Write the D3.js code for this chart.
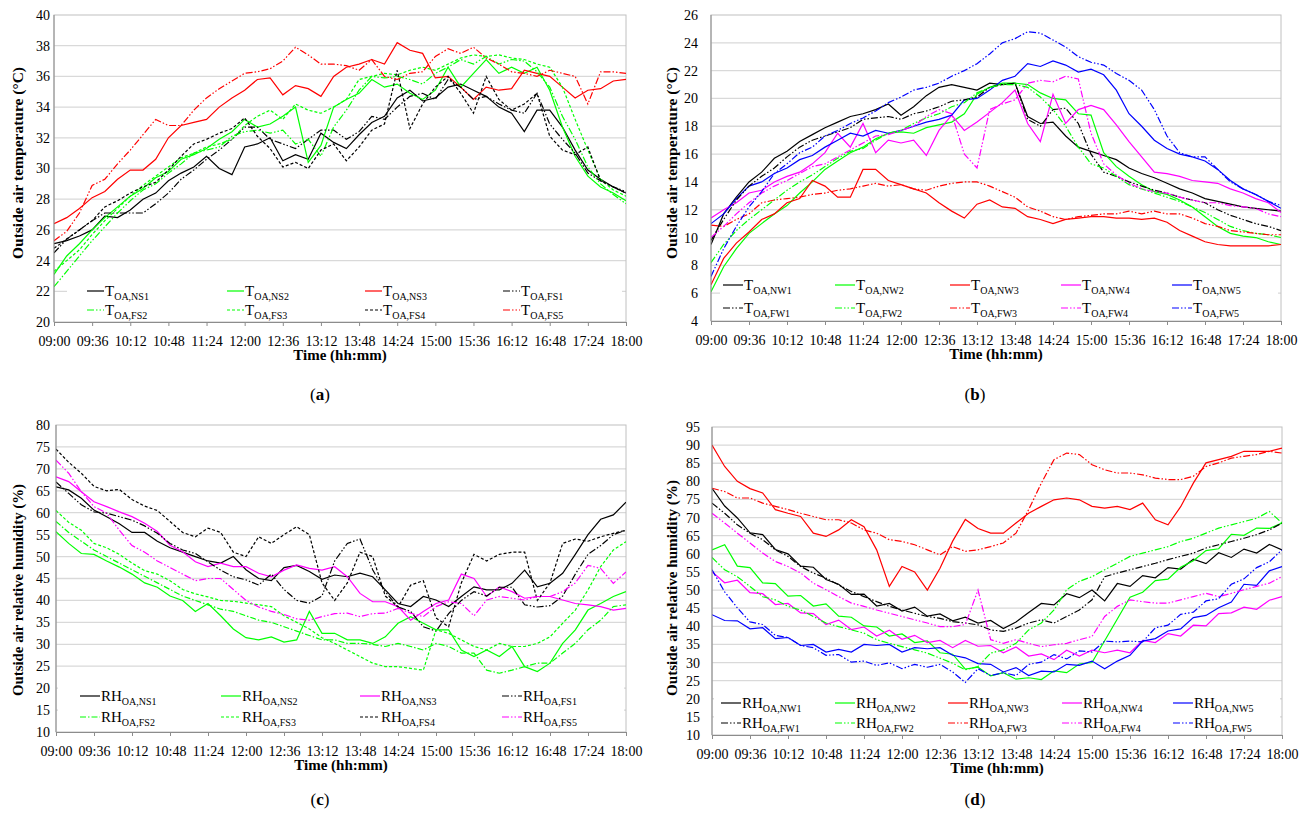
<!DOCTYPE html>
<html>
<head>
<meta charset="utf-8">
<script src="https://cdn.jsdelivr.net/npm/d3@7"></script>
<style>
  body { margin: 0; background: #fff; }
  text { font-family: "Liberation Serif", "Times New Roman", serif; fill: #000; }
</style>
</head>
<body>
<script>
// Time axis: samples every 12 min from 09:00 to 18:00
var minutes = d3.range(0, 541, 12);
var tickMinutes = [0, 36, 72, 108, 144, 180, 216, 252, 288, 324, 360, 396, 432, 468, 504, 540];
var timeLabels = ["09:00", "09:36", "10:12", "10:48", "11:24", "12:00", "12:36", "13:12",
  "13:48", "14:24", "15:00", "15:36", "16:12", "16:48", "17:24", "18:00"];

// y tick labels
var aTicks = [20, 22, 24, 26, 28, 30, 32, 34, 36, 38, 40];
var bTicks = [4, 6, 8, 10, 12, 14, 16, 18, 20, 22, 24, 26];
var cTicks = [10, 15, 20, 25, 30, 35, 40, 45, 50, 55, 60, 65, 70, 75, 80];
var dTicks = [10, 15, 20, 25, 30, 35, 40, 45, 50, 55, 60, 65, 70, 75, 80, 85, 90, 95];

// (a) outside air temperature, south
var aNS1 = [25.1, 25.3, 25.6, 26.0, 26.9, 26.8, 27.3, 28.0, 28.4, 29.2, 29.7, 30.1, 30.8, 30.0, 29.6, 31.4, 31.6, 32.0, 30.5, 30.9, 30.6, 32.3, 31.7, 31.3, 32.2, 33.0, 33.4, 34.6, 35.1, 34.4, 34.6, 35.3, 35.5, 35.1, 34.7, 34.0, 33.6, 32.4, 33.8, 33.8, 32.7, 31.2, 29.9, 29.3, 28.8, 28.4];
var aNS2 = [23.1, 24.3, 25.1, 26.0, 26.8, 27.5, 28.2, 28.7, 29.4, 29.8, 30.6, 30.9, 31.3, 31.9, 32.4, 33.2, 32.7, 32.9, 33.4, 34.0, 30.4, 31.5, 34.0, 34.5, 34.9, 35.8, 35.3, 35.5, 34.9, 34.5, 35.1, 36.6, 35.3, 36.2, 37.1, 36.2, 36.6, 36.2, 36.6, 35.1, 32.7, 30.8, 29.5, 28.8, 28.4, 27.9];
var aNS3 = [26.4, 26.8, 27.4, 28.1, 28.5, 29.3, 29.9, 29.9, 30.6, 32.0, 32.8, 33.0, 33.2, 34.0, 34.6, 35.1, 35.8, 35.9, 34.8, 35.4, 35.2, 34.7, 36.0, 36.6, 36.8, 37.1, 36.8, 38.2, 37.7, 37.5, 35.9, 36.0, 35.3, 34.5, 35.3, 35.1, 35.2, 36.4, 36.2, 36.0, 35.3, 34.6, 35.1, 35.2, 35.7, 35.8];
var aFS1 = [24.5, 25.4, 26.0, 26.6, 27.1, 27.1, 27.1, 27.1, 27.7, 28.4, 29.3, 29.9, 30.6, 31.2, 31.9, 32.7, 32.7, 31.9, 31.6, 31.3, 31.9, 32.5, 32.5, 31.9, 32.4, 33.4, 33.2, 34.0, 34.7, 34.9, 34.5, 35.8, 35.3, 34.5, 34.7, 34.2, 33.8, 33.6, 34.9, 32.9, 31.9, 31.0, 29.7, 29.2, 28.8, 28.5];
var aFS2 = [22.3, 23.3, 24.3, 25.3, 26.2, 27.1, 27.9, 28.6, 29.0, 29.7, 30.3, 31.0, 31.2, 31.4, 32.1, 32.4, 32.5, 32.3, 32.5, 31.6, 31.9, 30.8, 32.7, 33.8, 35.1, 36.0, 35.9, 36.0, 35.8, 35.5, 36.2, 36.6, 37.1, 36.8, 37.3, 36.8, 37.1, 37.0, 36.3, 35.3, 33.4, 31.9, 30.1, 29.0, 28.3, 27.7];
var aFS3 = [23.3, 24.0, 24.7, 25.7, 26.6, 27.4, 28.2, 28.9, 29.5, 30.1, 30.7, 31.0, 31.4, 31.6, 31.9, 32.8, 33.4, 33.8, 33.2, 34.2, 33.8, 33.6, 34.0, 34.5, 35.8, 36.0, 36.2, 36.1, 36.4, 36.6, 36.4, 36.8, 37.2, 37.4, 37.3, 37.4, 37.2, 37.1, 36.8, 36.6, 35.3, 33.2, 31.2, 29.3, 28.6, 28.2];
var aFS4 = [24.8, 25.4, 26.0, 26.6, 27.5, 27.9, 28.4, 28.8, 29.1, 29.9, 30.8, 31.6, 31.9, 32.3, 32.6, 33.3, 32.1, 31.3, 30.1, 30.4, 30.0, 31.2, 31.6, 30.5, 31.4, 32.5, 32.9, 36.4, 32.6, 34.2, 35.3, 36.0, 34.9, 33.6, 36.0, 34.5, 33.8, 34.2, 34.9, 32.1, 31.2, 30.9, 31.4, 29.2, 28.8, 28.4];
var aFS5 = [25.3, 25.9, 27.1, 28.9, 29.3, 30.3, 31.2, 32.2, 33.2, 32.8, 32.8, 33.8, 34.6, 35.2, 35.7, 36.2, 36.3, 36.5, 37.0, 37.9, 37.4, 36.8, 36.8, 36.7, 36.4, 37.1, 36.0, 35.8, 36.2, 36.3, 37.3, 37.8, 37.5, 37.9, 37.2, 36.8, 36.3, 36.2, 36.0, 36.4, 36.2, 36.0, 34.2, 36.3, 36.3, 36.2];

// (b) outside air temperature, west
var bNW1 = [9.5, 11.7, 12.9, 14.0, 14.7, 15.7, 16.2, 16.9, 17.4, 17.9, 18.3, 18.7, 18.9, 19.2, 19.6, 18.8, 19.4, 20.2, 20.8, 21.0, 20.8, 20.6, 21.1, 21.0, 21.1, 18.7, 18.2, 18.3, 17.3, 16.5, 16.2, 15.9, 15.6, 15.0, 14.6, 14.3, 13.9, 13.5, 13.2, 12.8, 12.6, 12.4, 12.2, 12.1, 12.0, 11.9];
var bNW2 = [6.1, 7.9, 9.2, 10.3, 11.0, 11.7, 12.3, 13.2, 14.0, 14.9, 15.5, 16.1, 16.5, 17.1, 17.5, 17.6, 17.5, 17.9, 18.1, 18.3, 18.9, 20.3, 20.8, 21.1, 21.1, 21.0, 20.4, 20.0, 19.9, 18.9, 18.8, 16.1, 15.1, 14.4, 13.8, 13.3, 13.1, 12.7, 12.2, 11.5, 10.8, 10.3, 10.1, 10.0, 9.7, 9.5];
var bNW3 = [6.6, 8.5, 9.6, 10.4, 11.3, 11.7, 12.5, 12.8, 14.1, 13.7, 12.9, 12.9, 14.9, 14.9, 14.1, 13.8, 13.5, 13.2, 12.5, 11.9, 11.4, 12.4, 12.7, 12.2, 12.1, 11.5, 11.3, 11.0, 11.3, 11.4, 11.5, 11.5, 11.4, 11.4, 11.3, 11.4, 11.1, 10.5, 10.1, 9.7, 9.5, 9.4, 9.4, 9.4, 9.4, 9.5];
var bNW4 = [11.4, 12.0, 12.5, 13.2, 13.4, 14.0, 14.4, 14.7, 15.3, 16.1, 17.5, 16.5, 18.2, 16.1, 17.0, 16.8, 17.0, 15.9, 17.7, 18.8, 17.7, 18.3, 19.0, 19.7, 20.6, 18.2, 16.9, 20.3, 18.2, 19.2, 19.5, 19.2, 18.1, 16.9, 15.8, 14.7, 14.6, 14.4, 14.1, 14.0, 13.9, 13.5, 13.2, 12.8, 12.5, 11.8];
var bNW5 = [11.0, 11.7, 12.8, 13.7, 14.0, 14.6, 15.0, 15.6, 15.9, 16.5, 17.0, 17.5, 17.3, 17.7, 17.5, 17.7, 18.0, 18.3, 18.5, 18.8, 19.9, 20.0, 20.6, 21.3, 21.6, 22.5, 22.3, 22.7, 22.4, 21.9, 22.1, 21.7, 20.6, 18.9, 18.0, 17.0, 16.4, 16.0, 15.8, 15.5, 14.9, 14.1, 13.5, 13.1, 12.6, 12.1];
var bFW1 = [9.8, 11.3, 12.7, 13.7, 14.4, 15.0, 15.8, 16.5, 17.0, 17.3, 17.6, 17.9, 18.5, 18.6, 18.7, 18.5, 18.9, 19.1, 19.4, 19.8, 19.9, 20.1, 20.8, 21.0, 21.1, 18.5, 18.0, 19.2, 19.3, 18.2, 16.0, 14.7, 14.4, 14.0, 13.7, 13.4, 13.2, 12.9, 12.7, 12.5, 12.0, 11.6, 11.3, 11.0, 10.8, 10.5];
var bFW2 = [8.2, 9.5, 10.5, 11.3, 12.0, 12.7, 13.4, 14.0, 14.5, 15.1, 15.7, 16.2, 16.4, 17.0, 17.5, 17.7, 18.2, 18.6, 18.9, 19.4, 19.7, 20.4, 20.8, 21.0, 21.0, 20.8, 20.1, 19.2, 18.0, 16.5, 15.3, 15.0, 14.4, 13.8, 13.5, 13.2, 12.9, 12.6, 12.2, 11.8, 11.3, 10.8, 10.5, 10.3, 10.2, 10.0];
var bFW3 = [10.9, 10.8, 11.3, 11.7, 12.5, 12.7, 12.8, 12.9, 13.1, 13.2, 13.4, 13.5, 13.7, 13.9, 13.7, 13.8, 13.5, 13.4, 13.7, 13.9, 14.0, 14.0, 13.7, 13.3, 12.9, 12.2, 11.9, 11.5, 11.3, 11.5, 11.6, 11.7, 11.7, 11.9, 11.7, 11.9, 11.7, 11.7, 11.4, 11.0, 10.8, 10.5, 10.4, 10.3, 10.2, 10.2];
var bFW4 = [10.0, 10.8, 11.7, 12.5, 13.2, 13.7, 14.1, 14.6, 15.1, 15.3, 15.8, 16.3, 16.8, 17.3, 17.4, 17.7, 18.0, 18.7, 19.2, 18.9, 16.0, 15.0, 19.2, 19.6, 19.9, 21.1, 21.3, 21.2, 21.6, 21.4, 17.5, 15.3, 14.5, 13.9, 13.5, 13.3, 13.2, 12.9, 12.7, 12.5, 12.5, 12.3, 12.2, 12.1, 11.7, 11.5];
var bFW5 = [7.2, 9.2, 10.8, 12.2, 13.3, 14.6, 15.3, 16.1, 16.5, 17.3, 17.7, 18.2, 18.6, 19.1, 19.7, 20.1, 20.6, 20.8, 21.1, 21.6, 22.0, 22.5, 23.2, 24.0, 24.3, 24.8, 24.7, 24.2, 23.7, 23.0, 22.6, 22.4, 21.8, 21.3, 20.6, 19.2, 17.3, 16.1, 15.8, 15.8, 14.9, 14.0, 13.5, 13.1, 12.6, 12.3];

// (c) outside air relative humidity, south
var cNS1 = [65.9, 65.2, 63.3, 60.6, 59.1, 57.5, 55.5, 55.5, 53.5, 52.0, 51.0, 50.0, 49.0, 48.5, 50.0, 47.0, 45.0, 44.5, 47.5, 48.0, 46.6, 44.8, 45.8, 45.4, 46.2, 45.4, 42.4, 39.3, 38.6, 40.9, 40.1, 38.6, 40.9, 43.1, 42.4, 42.4, 43.9, 46.9, 43.1, 43.9, 46.2, 50.5, 55.0, 58.5, 59.5, 62.4];
var cNS2 = [55.7, 53.0, 50.7, 50.5, 49.0, 47.6, 46.0, 44.0, 43.0, 41.0, 40.0, 37.5, 39.3, 36.5, 33.5, 31.5, 31.0, 31.7, 30.5, 31.0, 37.5, 32.5, 32.5, 31.0, 31.0, 30.2, 31.7, 34.8, 36.3, 34.8, 33.3, 33.3, 28.7, 27.2, 28.7, 27.2, 29.5, 24.9, 23.8, 25.7, 30.2, 33.3, 37.8, 39.3, 40.9, 42.0];
var cNS3 = [68.2, 67.1, 64.8, 62.5, 61.4, 60.2, 59.1, 57.6, 55.7, 52.6, 51.1, 48.8, 47.7, 48.5, 47.7, 47.7, 46.2, 45.4, 46.9, 48.1, 47.3, 46.9, 47.7, 45.4, 41.6, 39.7, 39.7, 38.6, 35.5, 37.5, 39.3, 40.1, 46.0, 45.0, 40.9, 43.1, 42.0, 40.5, 40.9, 40.9, 40.1, 39.3, 39.0, 38.6, 37.8, 38.2];
var cFS1 = [67.0, 64.4, 61.8, 60.2, 59.9, 59.1, 58.3, 57.0, 55.3, 53.0, 51.5, 50.7, 48.8, 46.9, 45.4, 44.7, 43.5, 46.0, 42.5, 40.0, 39.4, 41.0, 49.0, 53.0, 54.0, 47.0, 42.0, 38.5, 37.5, 34.0, 33.0, 37.0, 40.0, 42.0, 41.0, 43.0, 43.0, 39.0, 38.5, 38.8, 41.0, 46.0, 50.5, 52.5, 55.0, 56.0];
var cFS2 = [58.0, 55.5, 53.5, 51.5, 50.0, 48.5, 47.0, 45.5, 44.0, 42.5, 41.0, 40.0, 39.0, 38.0, 37.5, 36.5, 35.5, 35.0, 34.0, 33.0, 32.0, 31.0, 31.0, 30.2, 30.2, 30.0, 29.5, 30.2, 29.5, 28.7, 30.2, 29.5, 28.0, 28.0, 24.1, 23.4, 24.1, 24.9, 25.7, 25.7, 28.0, 30.2, 33.3, 35.5, 38.6, 39.0];
var cFS3 = [60.5, 57.8, 56.0, 53.0, 52.0, 50.5, 48.5, 46.8, 46.0, 44.5, 42.5, 41.5, 40.8, 40.0, 39.8, 39.4, 39.0, 38.6, 36.5, 35.0, 33.5, 31.5, 30.2, 28.7, 27.2, 25.7, 24.9, 24.9, 24.5, 24.1, 33.3, 32.5, 31.0, 29.5, 28.7, 30.2, 29.5, 29.5, 30.2, 31.7, 34.8, 37.8, 42.4, 47.7, 51.5, 53.4];
var cFS4 = [74.5, 71.5, 69.0, 66.0, 65.0, 65.3, 63.0, 61.5, 60.5, 58.0, 55.5, 54.5, 56.5, 55.5, 51.0, 50.0, 54.5, 53.0, 55.0, 56.8, 55.0, 44.0, 40.0, 44.0, 51.0, 50.0, 41.0, 38.5, 43.5, 44.5, 36.0, 34.0, 44.0, 50.5, 49.0, 50.5, 51.0, 51.0, 40.0, 44.0, 53.0, 54.0, 53.5, 54.5, 55.3, 56.0];
var cFS5 = [72.0, 69.0, 64.8, 61.4, 59.9, 56.0, 52.5, 51.0, 49.0, 47.5, 46.0, 44.5, 45.0, 45.0, 42.5, 40.0, 38.5, 37.5, 36.8, 35.8, 35.5, 36.3, 37.0, 37.1, 36.3, 37.0, 37.1, 38.2, 37.1, 36.3, 38.6, 39.7, 39.3, 36.5, 40.1, 40.9, 40.5, 40.1, 40.9, 40.9, 42.0, 44.0, 48.0, 47.3, 43.9, 46.5];

// (d) outside air relative humidity, west
var dNW1 = [78.1, 73.2, 69.9, 65.8, 65.3, 61.2, 60.0, 56.6, 56.3, 52.9, 51.6, 48.8, 48.9, 45.6, 46.3, 44.2, 45.3, 42.8, 43.4, 41.5, 42.5, 40.9, 41.6, 39.4, 41.2, 43.8, 46.3, 45.9, 49.0, 47.9, 50.0, 47.0, 51.8, 51.0, 54.0, 53.4, 56.2, 55.8, 58.5, 57.3, 60.3, 59.0, 61.3, 60.2, 62.6, 61.1];
var dNW2 = [61.1, 62.5, 56.6, 56.2, 52.0, 51.8, 48.3, 48.5, 45.6, 46.2, 42.8, 42.5, 40.1, 39.8, 37.3, 37.9, 35.5, 36.0, 32.7, 32.3, 28.2, 28.7, 26.3, 27.2, 25.4, 25.8, 25.3, 27.7, 27.2, 29.6, 30.0, 36.0, 42.0, 48.0, 49.4, 52.6, 53.0, 56.3, 58.1, 60.9, 61.4, 65.4, 65.1, 67.1, 67.0, 68.5];
var dNW3 = [90.0, 84.1, 80.0, 78.0, 76.8, 72.2, 71.2, 70.3, 65.7, 64.8, 66.6, 69.4, 67.5, 61.1, 51.0, 56.5, 55.0, 50.0, 56.0, 63.5, 69.5, 67.0, 65.7, 65.7, 68.5, 71.2, 73.1, 74.9, 75.4, 74.9, 73.1, 72.6, 73.1, 72.2, 74.0, 69.4, 68.0, 73.0, 79.5, 85.1, 86.0, 86.9, 88.3, 88.3, 88.3, 89.2];
var dNW4 = [55.1, 52.0, 52.7, 49.3, 49.0, 46.0, 46.3, 43.7, 43.5, 40.5, 41.7, 39.1, 39.8, 37.3, 38.9, 36.4, 37.5, 35.5, 36.1, 34.1, 36.1, 34.5, 34.7, 32.7, 34.3, 31.8, 32.4, 30.8, 33.4, 31.8, 33.4, 32.7, 33.4, 32.7, 36.1, 35.5, 38.0, 37.3, 40.3, 40.1, 43.5, 43.7, 45.3, 44.7, 47.2, 48.2];
var dNW5 = [43.2, 41.6, 41.5, 39.3, 39.6, 36.6, 36.9, 34.7, 35.0, 32.9, 33.6, 32.9, 35.0, 34.7, 35.0, 32.9, 34.1, 33.8, 34.1, 32.0, 31.3, 29.7, 29.5, 27.4, 28.6, 26.4, 27.6, 27.4, 29.5, 29.2, 30.4, 28.3, 30.4, 32.0, 35.9, 36.6, 38.7, 39.3, 42.4, 43.0, 45.1, 46.7, 51.6, 51.3, 55.3, 56.5];
var dFW1 = [74.0, 71.2, 68.0, 65.7, 63.9, 61.1, 59.3, 56.5, 54.7, 53.3, 51.4, 49.6, 48.2, 46.8, 45.5, 44.5, 43.6, 42.7, 42.2, 41.3, 40.9, 40.4, 39.0, 38.6, 39.5, 40.9, 41.8, 40.9, 42.7, 44.5, 47.3, 53.7, 54.7, 55.6, 56.5, 57.4, 58.4, 59.3, 60.2, 61.6, 62.5, 63.4, 64.3, 65.3, 66.6, 68.5];
var dFW2 = [59.0, 55.6, 53.7, 51.0, 48.2, 47.3, 45.5, 44.5, 42.7, 40.9, 39.9, 39.0, 38.1, 36.3, 35.3, 34.4, 33.5, 32.6, 31.2, 29.8, 28.0, 28.9, 32.6, 33.5, 35.3, 39.0, 40.9, 44.5, 50.1, 52.4, 53.7, 55.6, 57.4, 59.3, 60.2, 61.1, 62.0, 63.4, 64.3, 65.7, 67.1, 68.0, 68.9, 69.8, 71.7, 68.5];
var dFW3 = [78.1, 77.2, 75.4, 75.4, 74.0, 73.1, 72.2, 71.2, 70.3, 69.4, 69.4, 68.5, 66.6, 65.7, 63.9, 63.4, 62.5, 61.1, 59.7, 62.0, 60.7, 61.1, 62.0, 63.0, 65.7, 72.2, 79.5, 86.0, 87.8, 87.4, 84.6, 83.2, 82.3, 82.3, 81.8, 80.9, 80.5, 80.5, 81.4, 84.1, 85.1, 86.4, 86.9, 87.4, 88.3, 87.8];
var dFW4 = [71.2, 68.5, 65.7, 63.0, 60.2, 57.9, 56.5, 54.7, 51.9, 50.1, 48.2, 46.4, 45.5, 44.5, 43.6, 42.7, 41.8, 40.9, 39.9, 39.9, 40.5, 50.0, 36.3, 35.3, 36.3, 35.3, 34.4, 34.9, 35.3, 36.3, 37.2, 42.7, 45.5, 47.3, 46.8, 46.4, 46.4, 47.3, 48.2, 49.1, 48.2, 49.1, 50.1, 51.0, 51.9, 53.7];
var dFW5 = [55.6, 49.5, 45.1, 41.2, 40.5, 37.5, 36.9, 34.7, 34.1, 32.0, 32.2, 30.1, 30.4, 29.2, 29.9, 28.3, 29.5, 28.7, 29.5, 27.4, 24.5, 28.3, 26.4, 27.2, 26.4, 29.5, 30.1, 32.2, 31.0, 33.2, 32.9, 35.9, 35.7, 35.9, 35.7, 39.6, 40.3, 43.3, 43.9, 47.0, 47.6, 51.6, 53.1, 56.2, 57.8, 61.1];

var BLACK = "#000000", GREEN = "#00ff00", RED = "#ff0000", MAGENTA = "#ff00ff", BLUE = "#0000ff";
var SOLID = null, DASHED = "3,2", DASHDOT = "6,2,1.5,2", DASHDOTDOT = "7,2,1.5,2,1.5,2";

var panels = [
  { caption: "a", left: 54, right: 626, top: 15, bottom: 322, yTicks: aTicks, labelRight: 50,
    yTitle: "Outside air temperature (°C)", titleX: 18, titleY: 163, titleLen: 192, base: "T", sample: 17,
    legendCols: [87, 227, 365, 503], legendRows: [291, 310], legendBox: [67, 280, 622, 321], capPos: [320, 400],
    series: [
      { name: "OA,NS1", values: aNS1, color: BLACK, dash: SOLID },
      { name: "OA,NS2", values: aNS2, color: GREEN, dash: SOLID },
      { name: "OA,NS3", values: aNS3, color: RED, dash: SOLID },
      { name: "OA,FS1", values: aFS1, color: BLACK, dash: DASHDOTDOT },
      { name: "OA,FS2", values: aFS2, color: GREEN, dash: DASHDOTDOT },
      { name: "OA,FS3", values: aFS3, color: GREEN, dash: DASHED },
      { name: "OA,FS4", values: aFS4, color: BLACK, dash: DASHED },
      { name: "OA,FS5", values: aFS5, color: RED, dash: DASHDOTDOT }
    ] },
  { caption: "b", left: 711, right: 1281, top: 15, bottom: 321, yTicks: bTicks, labelRight: 698,
    yTitle: "Outside air temperature (°C)", titleX: 672, titleY: 163, titleLen: 192, base: "T", sample: 20,
    legendCols: [723, 835, 950, 1061, 1172], legendRows: [285, 308], legendBox: [720, 275, 1278, 320], capPos: [975, 400],
    series: [
      { name: "OA,NW1", values: bNW1, color: BLACK, dash: SOLID },
      { name: "OA,NW2", values: bNW2, color: GREEN, dash: SOLID },
      { name: "OA,NW3", values: bNW3, color: RED, dash: SOLID },
      { name: "OA,NW4", values: bNW4, color: MAGENTA, dash: SOLID },
      { name: "OA,NW5", values: bNW5, color: BLUE, dash: SOLID },
      { name: "OA,FW1", values: bFW1, color: BLACK, dash: DASHDOTDOT },
      { name: "OA,FW2", values: bFW2, color: GREEN, dash: DASHDOTDOT },
      { name: "OA,FW3", values: bFW3, color: RED, dash: DASHDOTDOT },
      { name: "OA,FW4", values: bFW4, color: MAGENTA, dash: DASHDOTDOT },
      { name: "OA,FW5", values: bFW5, color: BLUE, dash: DASHDOTDOT }
    ] },
  { caption: "c", left: 56, right: 626, top: 425, bottom: 732, yTicks: cTicks, labelRight: 50,
    yTitle: "Outside air relative humidity (%)", titleX: 18, titleY: 590, titleLen: 212, base: "RH", sample: 20,
    legendCols: [80, 221, 360, 502], legendRows: [696, 717], legendBox: [58, 684, 624, 731], capPos: [320, 805],
    series: [
      { name: "OA,NS1", values: cNS1, color: BLACK, dash: SOLID },
      { name: "OA,NS2", values: cNS2, color: GREEN, dash: SOLID },
      { name: "OA,NS3", values: cNS3, color: MAGENTA, dash: SOLID },
      { name: "OA,FS1", values: cFS1, color: BLACK, dash: DASHDOTDOT },
      { name: "OA,FS2", values: cFS2, color: GREEN, dash: DASHDOT },
      { name: "OA,FS3", values: cFS3, color: GREEN, dash: DASHED },
      { name: "OA,FS4", values: cFS4, color: BLACK, dash: DASHED },
      { name: "OA,FS5", values: cFS5, color: MAGENTA, dash: DASHDOTDOT }
    ] },
  { caption: "d", left: 712, right: 1282, top: 427, bottom: 735, yTicks: dTicks, labelRight: 700,
    yTitle: "Outside air relative humidity (%)", titleX: 672, titleY: 588, titleLen: 216, base: "RH", sample: 20,
    legendCols: [721, 835, 948, 1062, 1173], legendRows: [703, 723], legendBox: [714, 690, 1280, 734], capPos: [975, 805],
    series: [
      { name: "OA,NW1", values: dNW1, color: BLACK, dash: SOLID },
      { name: "OA,NW2", values: dNW2, color: GREEN, dash: SOLID },
      { name: "OA,NW3", values: dNW3, color: RED, dash: SOLID },
      { name: "OA,NW4", values: dNW4, color: MAGENTA, dash: SOLID },
      { name: "OA,NW5", values: dNW5, color: BLUE, dash: SOLID },
      { name: "OA,FW1", values: dFW1, color: BLACK, dash: DASHDOTDOT },
      { name: "OA,FW2", values: dFW2, color: GREEN, dash: DASHDOTDOT },
      { name: "OA,FW3", values: dFW3, color: RED, dash: DASHDOTDOT },
      { name: "OA,FW4", values: dFW4, color: MAGENTA, dash: DASHDOTDOT },
      { name: "OA,FW5", values: dFW5, color: BLUE, dash: DASHDOTDOT }
    ] }
];

var svg = d3.select("body").append("svg")
  .attr("width", 1307)
  .attr("height", 818);

panels.forEach(function(p, k) {
  var x = d3.scaleLinear().domain([0, 540]).range([p.left, p.right]);
  var y = d3.scaleLinear()
    .domain([p.yTicks[0], p.yTicks[p.yTicks.length - 1]])
    .range([p.bottom, p.top]);

  var g = svg.append("g");

  // horizontal gridlines
  g.selectAll(".grid").data(p.yTicks.slice(1, -1)).enter().append("line")
    .attr("x1", p.left).attr("x2", p.right)
    .attr("y1", d => y(d)).attr("y2", d => y(d))
    .attr("stroke", "#d9d9d9").attr("stroke-width", 1.3);

  // plot frame
  g.append("rect")
    .attr("x", p.left).attr("y", p.top)
    .attr("width", p.right - p.left).attr("height", p.bottom - p.top)
    .attr("fill", "none").attr("stroke", "#c0c0c0");

  svg.append("clipPath").attr("id", "clip" + k)
    .append("rect")
    .attr("x", p.left).attr("y", p.top)
    .attr("width", p.right - p.left).attr("height", p.bottom - p.top);

  var line = d3.line()
    .x((d, i) => x(minutes[i]))
    .y(d => y(d));

  p.series.forEach(function(s) {
    g.append("path")
      .attr("d", line(s.values))
      .attr("clip-path", "url(#clip" + k + ")")
      .attr("fill", "none")
      .attr("stroke", s.color)
      .attr("stroke-width", 1.2)
      .attr("stroke-dasharray", s.dash);
  });

  // axes
  var bottomAxis = d3.axisBottom(x)
    .tickValues(tickMinutes)
    .tickFormat((d, i) => timeLabels[i])
    .tickSize(4).tickPadding(10);
  var ax = g.append("g")
    .attr("transform", `translate(0, ${p.bottom})`)
    .call(bottomAxis);
  ax.select(".domain").attr("stroke", "#8c8c8c");
  ax.selectAll(".tick line").attr("stroke", "#8c8c8c");
  ax.selectAll("text").style("font-size", "14px").style("font-family", "Liberation Serif");

  var leftAxis = d3.axisLeft(y).tickValues(p.yTicks).tickSize(0).tickPadding(0);
  var ay = g.append("g")
    .attr("transform", `translate(${p.labelRight}, 0)`)
    .call(leftAxis);
  ay.select(".domain").remove();
  ay.selectAll("text").style("font-size", "14px").style("font-family", "Liberation Serif");

  g.append("line")
    .attr("x1", p.left).attr("x2", p.left)
    .attr("y1", p.top).attr("y2", p.bottom)
    .attr("stroke", "#8c8c8c");

  // legend
  var lb = p.legendBox;
  g.append("rect")
    .attr("x", lb[0]).attr("y", lb[1])
    .attr("width", lb[2] - lb[0]).attr("height", lb[3] - lb[1])
    .attr("fill", "#fff");
  var ncol = p.legendCols.length;
  p.series.forEach(function(s, i) {
    var lx = p.legendCols[i % ncol];
    var ly = p.legendRows[Math.floor(i / ncol)];
    g.append("line")
      .attr("x1", lx).attr("x2", lx + p.sample)
      .attr("y1", ly).attr("y2", ly)
      .attr("stroke", s.color).attr("stroke-width", 1.2)
      .attr("stroke-dasharray", s.dash);
    var t = g.append("text")
      .attr("x", lx + p.sample + 1)
      .attr("y", ly + 5)
      .style("font-size", "15px");
    t.append("tspan").text(p.base);
    t.append("tspan").attr("dy", 4).style("font-size", "10px").text(s.name);
  });

  // axis titles
  g.append("text")
    .attr("transform", `translate(${p.titleX}, ${p.titleY}) rotate(-90)`)
    .attr("text-anchor", "middle")
    .attr("dy", "0.35em")
    .attr("textLength", p.titleLen)
    .attr("lengthAdjust", "spacingAndGlyphs")
    .style("font-size", "15px").style("font-weight", "bold")
    .text(p.yTitle);

  g.append("text")
    .attr("x", (p.left + p.right) / 2)
    .attr("y", p.bottom + 38)
    .attr("text-anchor", "middle")
    .style("font-size", "15px").style("font-weight", "bold")
    .text("Time (hh:mm)");

  // caption
  var c = g.append("text")
    .attr("x", p.capPos[0]).attr("y", p.capPos[1])
    .attr("text-anchor", "middle")
    .style("font-size", "17px");
  c.append("tspan").text("(");
  c.append("tspan").style("font-weight", "bold").text(p.caption);
  c.append("tspan").text(")");
});
</script>
</body>
</html>
